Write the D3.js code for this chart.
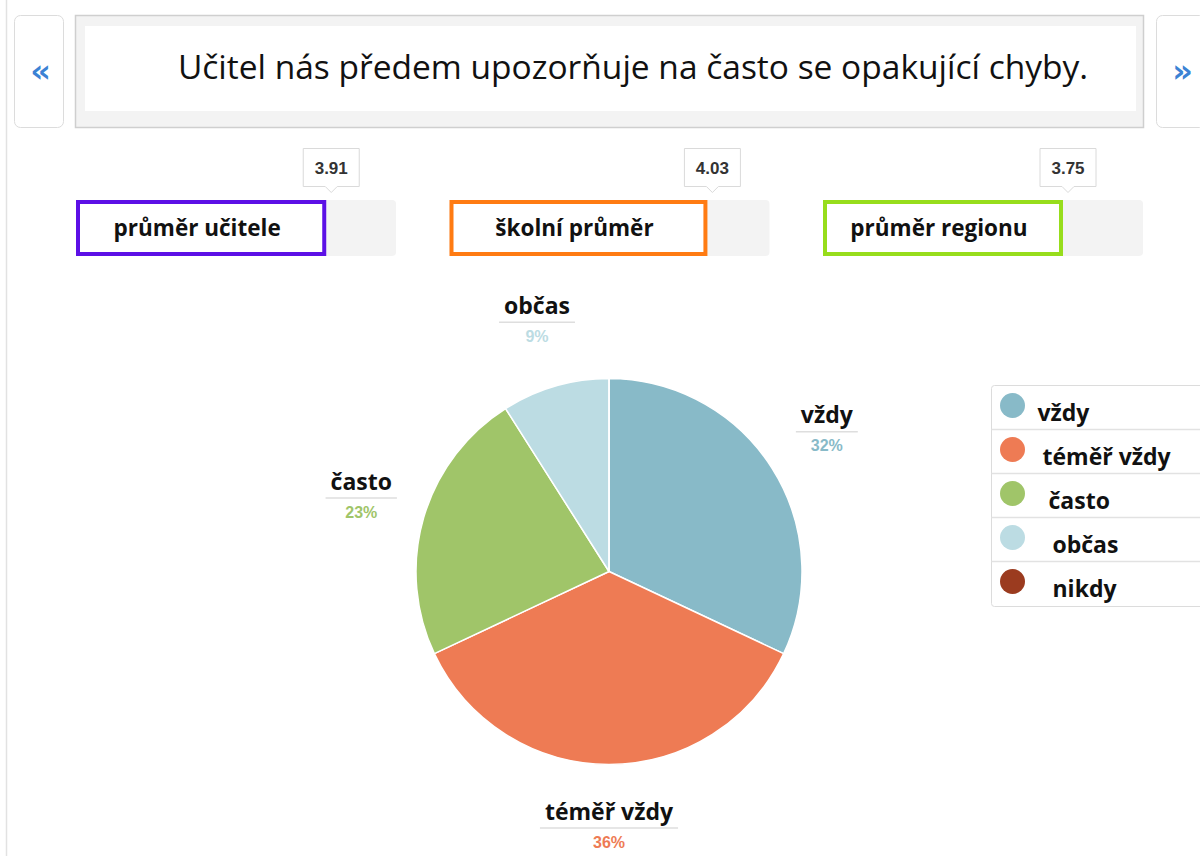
<!DOCTYPE html>
<html>
<head>
<meta charset="utf-8">
<script src="https://cdn.jsdelivr.net/npm/d3@7"></script>
<style>
  body { margin: 0; background: #fff; }
  svg { display: block; }
</style>
</head>
<body>
<div id="chart"></div>
<script>
/*
  DATA
*/
var question = "Učitel nás předem upozorňuje na často se opakující chyby.";

var avgNames = ["průměr učitele", "školní průměr", "průměr regionu"];
var avgValues = [3.91, 4.03, 3.75];
var avgColors = ["#5c10e6", "#ff7b12", "#97dd1c"];

var answers = ["vždy", "téměř vždy", "často", "občas", "nikdy"];
var shares = [32, 36, 23, 9, 0];
var sliceColors = ["#88bac8", "#ee7b54", "#a0c569", "#bcdce3", "#9b3b1f"];

/*
  LAYOUT
*/
var width = 1200;
var height = 856;
var labelFont = "'Open Sans', 'DejaVu Sans', sans-serif";

var svg = d3.select("#chart")
  .append("svg")
    .attr("width", width)
    .attr("height", height);

// page border at left
svg.append("line")
  .attr("x1", 6.5).attr("x2", 6.5)
  .attr("y1", 0).attr("y2", height)
  .attr("stroke", "#e2e2e2")
  .attr("stroke-width", 1.5);

/*
  HEADER
*/
function navButton(x, glyph) {
  svg.append("rect")
    .attr("x", x).attr("y", 15.5)
    .attr("width", 49).attr("height", 112)
    .attr("rx", 6)
    .attr("fill", "#fff")
    .attr("stroke", "#dcdcdc");
  svg.append("text")
    .attr("x", x + 26).attr("y", 71)
    .attr("dy", "0.35em")
    .attr("text-anchor", "middle")
    .style("font-family", "'DejaVu Sans', sans-serif")
    .style("font-weight", "bold")
    .style("font-size", "32px")
    .style("fill", "#3b82d4")
    .text(glyph);
}
navButton(14.5, "«");
navButton(1156.5, "»");

svg.append("rect")
  .attr("x", 75.5).attr("y", 15.5)
  .attr("width", 1068).attr("height", 112)
  .attr("fill", "#f3f3f3")
  .attr("stroke", "#cfcfcf")
  .attr("stroke-width", 1.5);
svg.append("rect")
  .attr("x", 85).attr("y", 26)
  .attr("width", 1051).attr("height", 85)
  .attr("fill", "#fff");
svg.append("text")
  .attr("x", 633).attr("y", 67)
  .attr("dy", "0.35em")
  .attr("text-anchor", "middle")
  .style("font-family", labelFont)
  .style("font-size", "33.5px")
  .style("fill", "#111")
  .text(question);

/*
  AVERAGE BARS
*/
var barW = 320;
var x = d3.scaleLinear().domain([0, 5]).range([0, barW]);

avgNames.forEach(function(name, i) {
  var x0 = 76 + i * 373.5;
  var fillW = x(avgValues[i]);
  var g = svg.append("g").attr("transform", "translate(" + x0 + ",200)");

  g.append("rect")
    .attr("width", barW).attr("height", 56)
    .attr("rx", 4)
    .attr("fill", "#f3f3f3");
  g.append("rect")
    .attr("x", 2).attr("y", 2)
    .attr("width", fillW - 4).attr("height", 52)
    .attr("fill", "#fff")
    .attr("stroke", avgColors[i])
    .attr("stroke-width", 4);
  g.append("text")
    .attr("x", fillW / 2 - 4).attr("y", 28)
    .attr("dy", "0.35em")
    .attr("text-anchor", "middle")
    .style("font-family", labelFont)
    .style("font-weight", "bold")
    .style("font-size", "22.5px")
    .style("fill", "#111")
    .text(name);

  // value tooltip
  var tx = fillW + 5;
  g.append("path")
    .attr("d", "M" + (tx - 28) + ",-51.5 h56 v38 h-22 l-6,6 l-6,-6 h-22 z")
    .attr("fill", "#fff")
    .attr("stroke", "#dadada")
    .attr("stroke-linejoin", "round");
  g.append("text")
    .attr("x", tx).attr("y", -32)
    .attr("dy", "0.35em")
    .attr("text-anchor", "middle")
    .style("font-family", "'Liberation Sans', Arial, sans-serif")
    .style("font-weight", "bold")
    .style("font-size", "17px")
    .style("fill", "#333")
    .text(avgValues[i].toFixed(2));
});

/*
  PIE CHART
*/
var radius = 193;
var labelRadius = 258;

var data = answers.map(function(a, i) {
  return {name: a, value: shares[i], color: sliceColors[i]};
});

var pie = d3.pie()
  .value(function(d) { return d.value; })
  .sort(null);

var arc = d3.arc()
  .innerRadius(0)
  .outerRadius(radius);

var labelArc = d3.arc()
  .innerRadius(labelRadius)
  .outerRadius(labelRadius);

var pg = svg.append("g")
  .attr("transform", "translate(609,571.5)");

pg.selectAll("path")
  .data(pie(data))
  .enter()
  .append("path")
    .attr("d", arc)
    .attr("fill", function(d) { return d.data.color; })
    .attr("stroke", "#fff")
    .attr("stroke-width", 1.5)
    .attr("stroke-linejoin", "round");

var labels = pg.selectAll(".label")
  .data(pie(data).filter(function(d) { return d.data.value > 0; }))
  .enter()
  .append("g")
    .attr("class", "label")
    .attr("transform", function(d) {
      var c = labelArc.centroid(d);
      return "translate(" + c[0] + "," + c[1] + ")";
    });

labels.append("text")
  .attr("class", "name-text")
  .attr("y", -10)
  .attr("text-anchor", "middle")
  .style("font-family", labelFont)
  .style("font-weight", "bold")
  .style("font-size", "23px")
  .style("fill", "#111")
  .text(function(d) { return d.data.name; });

labels.append("text")
  .attr("y", 18)
  .attr("text-anchor", "middle")
  .style("font-family", "'Liberation Sans', Arial, sans-serif")
  .style("font-weight", "bold")
  .style("font-size", "16px")
  .style("fill", function(d) { return d.data.color; })
  .text(function(d) { return d.data.value + "%"; });

labels.each(function() {
  var g = d3.select(this);
  var w = g.select(".name-text").node().getComputedTextLength();
  g.append("line")
    .attr("x1", -w / 2 - 5).attr("x2", w / 2 + 5)
    .attr("y1", -1.5).attr("y2", -1.5)
    .attr("stroke", "#dedede")
    .attr("stroke-width", 1.5);
});

/*
  LEGEND
*/
var legendIndent = [0, 5, 11, 15, 15];
var rowH = 44;

var lg = svg.append("g")
  .attr("transform", "translate(991.5,385.5)");

lg.append("rect")
  .attr("width", 240).attr("height", 221)
  .attr("rx", 3)
  .attr("fill", "#fff")
  .attr("stroke", "#dcdcdc");

var rows = lg.selectAll(".row")
  .data(data)
  .enter()
  .append("g")
    .attr("class", "row")
    .attr("transform", function(d, i) { return "translate(0," + (i * rowH) + ")"; });

rows.filter(function(d, i) { return i > 0; })
  .append("line")
    .attr("x1", 0).attr("x2", 240)
    .attr("stroke", "#e2e2e2")
    .attr("stroke-width", 1.5);

rows.append("circle")
  .attr("cx", 21).attr("cy", 20)
  .attr("r", 12.5)
  .attr("fill", function(d) { return d.color; });

rows.append("text")
  .attr("x", function(d, i) { return 46 + legendIndent[i]; })
  .attr("y", 27)
  .attr("dy", "0.35em")
  .style("font-family", labelFont)
  .style("font-weight", "bold")
  .style("font-size", "23px")
  .style("fill", "#111")
  .text(function(d) { return d.name; });
</script>
</body>
</html>
